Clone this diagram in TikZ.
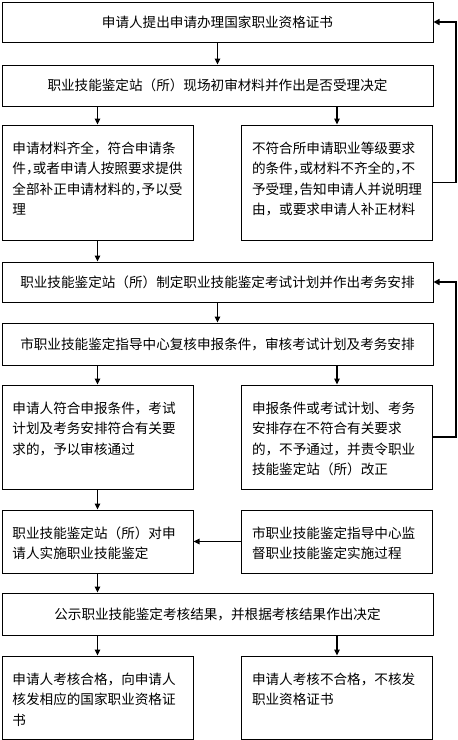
\documentclass[tikz,border=0pt]{standalone}
\usepackage{fontspec}
\setmainfont{Noto Sans CJK SC}
\usetikzlibrary{arrows.meta}
\newcommand{\hc}{\makebox[0.5em][l]{，}}

\begin{document}
\begin{tikzpicture}[x=1pt,y=-1pt,
  font=\fontsize{13.6pt}{20.5pt}\selectfont,
  box/.style={draw, line width=1pt, inner sep=0pt, minimum width=431pt, minimum height=#1, align=center},
  textbox/.style={draw, line width=1pt, inner xsep=10.5pt, inner ysep=0pt, text width=170pt, align=left, text height=28pt, text depth=#1},
  arr/.style={line width=1.3pt, -{Triangle[width=5.5pt,length=6pt]}},
  back/.style={line width=1.8pt, -{Triangle[width=6pt,length=6pt]}}]
\useasboundingbox (0,0) rectangle (458,740);

% application and first check
\node[box=40pt] (apply) at (217.5,22) {申请人提出申请办理国家职业资格证书};
\node[box=41pt] (firstcheck) at (217.5,85.5) {职业技能鉴定站（所）现场初审材料并作出是否受理决定};
\node[textbox=87pt] (accept) at (97.5,182.5) {申请材料齐全，符合申请条\\件\hc 或者申请人按照要求提供\\全部补正申请材料的\hc 予以受\\理};
\node[textbox=87pt] (reject) at (337,182.5) {不符合所申请职业等级要求\\的条件\hc 或材料不齐全的\hc 不\\予受理\hc 告知申请人并说明理\\由，或要求申请人补正材料};

% plan and review
\node[box=40pt] (plan) at (217.5,282) {职业技能鉴定站（所）制定职业技能鉴定考试计划并作出考务安排};
\node[box=42pt] (review) at (217.5,344) {市职业技能鉴定指导中心复核申报条件，审核考试计划及考务安排};
\node[textbox=76pt] (pass) at (97.5,437) {申请人符合申报条件，考试\\计划及考务安排符合有关要\\求的，予以审核通过};
\node[textbox=76pt] (refuse) at (337,437) {申报条件或考试计划、考务\\安排存在不符合有关要求\\的，不予通过，并责令职业\\技能鉴定站（所）改正};

% exam and result
\node[textbox=35pt] (exam) at (97.5,541.5) {职业技能鉴定站（所）对申\\请人实施职业技能鉴定};
\node[textbox=35pt] (supervise) at (337,541.5) {市职业技能鉴定指导中心监\\督职业技能鉴定实施过程};
\node[box=42pt] (publish) at (217.5,614) {公示职业技能鉴定考核结果，并根据考核结果作出决定};
\node[textbox=55pt] (cert) at (97.5,697.5) {申请人考核合格，向申请人\\核发相应的国家职业资格证\\书};
\node[textbox=55pt] (nocert) at (337,697.5) {申请人考核不合格，不核发\\职业资格证书};

% arrows
\draw[arr] (apply) -- (firstcheck);
\draw[arr] (firstcheck.south -| accept.north) -- (accept.north);
\draw[arr] (firstcheck.south -| reject.north) -- (reject.north);
\draw[arr] (accept.south) -- (accept.south |- plan.north);
\draw[arr] (plan) -- (review);
\draw[arr] (review.south -| pass.north) -- (pass.north);
\draw[arr] (review.south -| refuse.north) -- (refuse.north);
\draw[arr] (pass) -- (exam);
\draw[arr] (supervise) -- (exam);
\draw[arr] (exam.south) -- (exam.south |- publish.north);
\draw[arr] (publish.south -| cert.north) -- (cert.north);
\draw[arr] (publish.south -| nocert.north) -- (nocert.north);
\draw[back] (reject.east) -- ++(23,0) |- (apply.east);
\draw[back] (refuse.east) -- ++(23,0) |- (plan.east);

\end{tikzpicture}
\end{document}
